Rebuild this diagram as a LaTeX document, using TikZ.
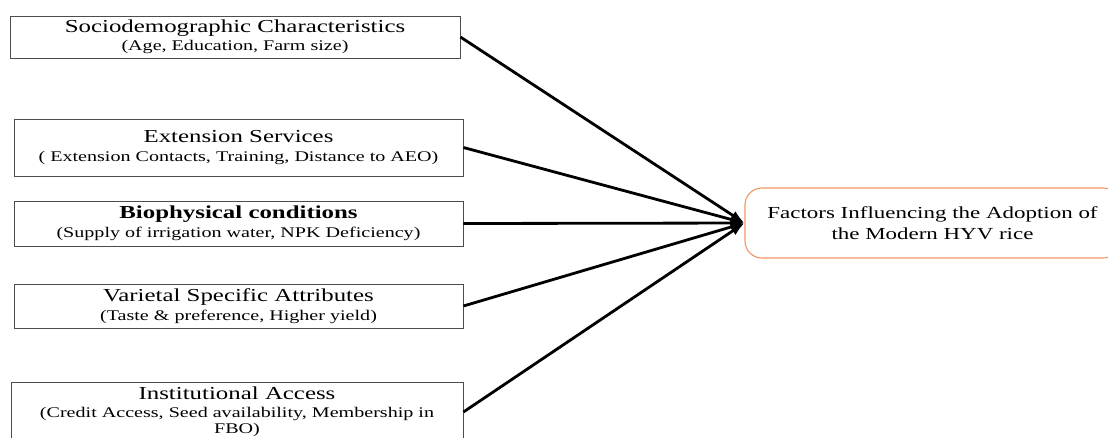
\documentclass[tikz,border=0pt]{standalone}
\usepackage{fontspec}
\setmainfont[FakeStretch=1.36]{Liberation Serif}
\usetikzlibrary{arrows.meta}
\definecolor{factorline}{RGB}{240,150,100}
\begin{document}
\begin{tikzpicture}
[x=0.025cm, y=-0.025cm, line width=0.6pt,
factor/.style={rectangle, draw=black!70, inner sep=2pt, align=center, font=\fontsize{13}{11.5}\selectfont},
outcome/.style={rectangle, rounded corners=12pt, draw=factorline, line width=0.8pt, align=center, minimum width=375*0.025cm, minimum height=70*0.025cm, font=\fontsize{12}{13}\selectfont},
link/.style={-{Latex[length=3.5mm, width=2.5mm]}, line width=2pt, draw=black}]

\useasboundingbox (0,0) rectangle (1108,437);

\node[factor, minimum width=450*0.025cm, minimum height=42*0.025cm] (socio) at (235,37)
  {Sociodemographic Characteristics\\[1pt] \fontsize{10.5}{11.5}\selectfont (Age, Education, Farm size)};
\node[factor, minimum width=449*0.025cm, minimum height=57*0.025cm] (ext) at (238.5,147.5)
  {Extension Services\\[2pt] \fontsize{10.5}{11.5}\selectfont ( Extension Contacts, Training, Distance to AEO)\\[-9pt]};
\node[factor, minimum width=449*0.025cm, minimum height=45*0.025cm] (bio) at (238.5,223.5)
  {\bfseries Biophysical conditions\\[2pt] \fontsize{10.5}{11.5}\selectfont (Supply of irrigation water, NPK Deficiency)};
\node[factor, minimum width=449*0.025cm, minimum height=44*0.025cm] (var) at (238.5,306)
  {Varietal Specific Attributes\\[2pt] \fontsize{10.5}{11.5}\selectfont (Taste \& preference, Higher yield)};
\node[factor, minimum width=452*0.025cm, minimum height=60*0.025cm] (inst) at (237,412)
  {Institutional Access\\[1pt] \fontsize{10.5}{11.5}\selectfont (Credit Access, Seed availability, Membership in\\[0pt] \fontsize{10.5}{11.5}\selectfont FBO)};

\node[outcome] (adopt) at (932.5,223)
  {Factors Influencing the Adoption of\\[2pt] the Modern HYV rice};

\foreach \f in {socio, ext, bio, var, inst} {
  \draw[link] (\f.east) -- (adopt.west);
}
\end{tikzpicture}
\end{document}
